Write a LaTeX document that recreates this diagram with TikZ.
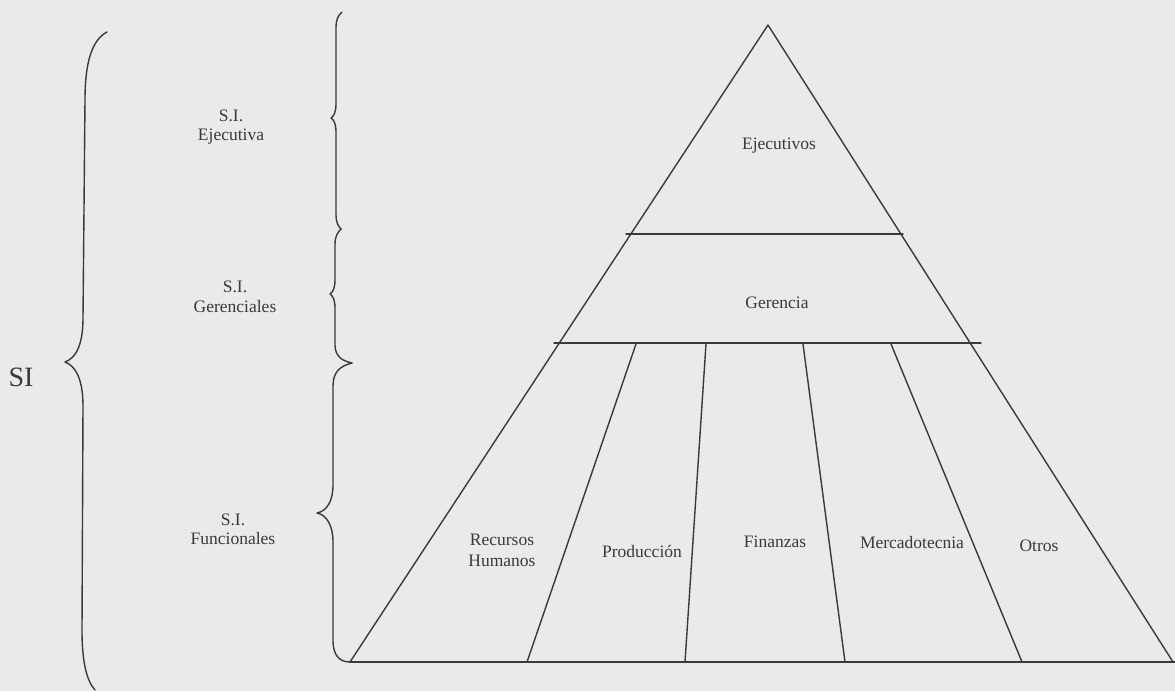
\documentclass[tikz,border=0pt]{standalone}
\usepackage{fontspec}
\setmainfont{Liberation Serif}
\definecolor{paper}{RGB}{232,234,235}
\definecolor{inkgray}{RGB}{58,58,60}
\begin{document}
\begin{tikzpicture}[x=1pt,y=-1pt,
  ink/.style={draw=inkgray, line width=1.4pt, line join=round, line cap=round},
  lbl/.style={text=inkgray, font=\fontsize{17.5}{20}\selectfont, inner sep=0pt, anchor=base},
  biglbl/.style={text=inkgray, font=\fontsize{28}{32}\selectfont, inner sep=0pt, anchor=base}]
% page
\fill[paper] (0,0) rectangle (1175,691);
\clip (0,0) rectangle (1175,691);

% pyramid corners and level lines
\coordinate (apex) at (768,25);
\coordinate (bl) at (350,662);
\coordinate (br) at (1173,662);
\coordinate (baseend) at (1185,662);
\coordinate (h1l) at (626,234);
\coordinate (h1r) at (903,234);
\coordinate (h2l) at (554,343);
\coordinate (h2r) at (981,343);
% functional dividers (top / bottom)
\coordinate (d1t) at (636,344);  \coordinate (d1b) at (527,662);
\coordinate (d2t) at (706,344);  \coordinate (d2b) at (685,662);
\coordinate (d3t) at (803,344);  \coordinate (d3b) at (845,662);
\coordinate (d4t) at (891,344);  \coordinate (d4b) at (1022,662);

\draw[ink] (bl) -- (apex) -- (br);
\draw[ink] (bl) -- (baseend);
\draw[ink] (h1l) -- (h1r);
\draw[ink] (h2l) -- (h2r);
\draw[ink] (d1t) -- (d1b);
\draw[ink] (d2t) -- (d2b);
\draw[ink] (d3t) -- (d3b);
\draw[ink] (d4t) -- (d4b);

% level labels
\node[lbl] (ejecutivos) at (779,149) {Ejecutivos};
\node[lbl] (gerencia) at (777,308) {Gerencia};
\node[lbl] (rh1) at (502,545) {Recursos};
\node[lbl] (rh2) at (502,566) {Humanos};
\node[lbl] (produccion) at (642,557) {Producción};
\node[lbl] (finanzas) at (775,547) {Finanzas};
\node[lbl] (mercado) at (912,548) {Mercadotecnia};
\node[lbl] (otros) at (1039,551) {Otros};

% outer brace
\draw[ink] (107,32) .. controls (92,40) and (85,62) .. (85,100)
  -- (83,318) .. controls (83,345) and (76,358) .. (65,362)
  .. controls (76,366) and (83,380) .. (83,406)
  -- (82,630) .. controls (82,660) and (86,680) .. (95,690);

% inner braces
\draw[ink] (342,12) .. controls (338,15) and (336,20) .. (336,28)
  -- (336,104) .. controls (336,112) and (334,116) .. (331,118)
  .. controls (334,120) and (336,124) .. (336,132)
  -- (336,215) .. controls (336,222) and (338,226) .. (341,229);
\draw[ink] (341,229) .. controls (338,232) and (335,236) .. (335,244)
  -- (335,280) .. controls (335,288) and (333,292) .. (330,294)
  .. controls (333,296) and (335,300) .. (335,308)
  -- (335,345) .. controls (335,356) and (342,361) .. (352,363);
\draw[ink] (352,363) .. controls (340,366) and (333,372) .. (333,386)
  -- (333,485) .. controls (333,501) and (327,511) .. (317,513)
  .. controls (327,515) and (333,526) .. (333,542)
  -- (333,640) .. controls (333,655) and (339,662) .. (bl);

% brace labels
\node[biglbl] (si) at (21,386) {SI};
\node[lbl] (eje1) at (231,121) {S.I.};
\node[lbl] (eje2) at (231,140) {Ejecutiva};
\node[lbl] (ger1) at (235,292) {S.I.};
\node[lbl] (ger2) at (235,312) {Gerenciales};
\node[lbl] (fun1) at (233,525) {S.I.};
\node[lbl] (fun2) at (233,544) {Funcionales};
\end{tikzpicture}
\end{document}
